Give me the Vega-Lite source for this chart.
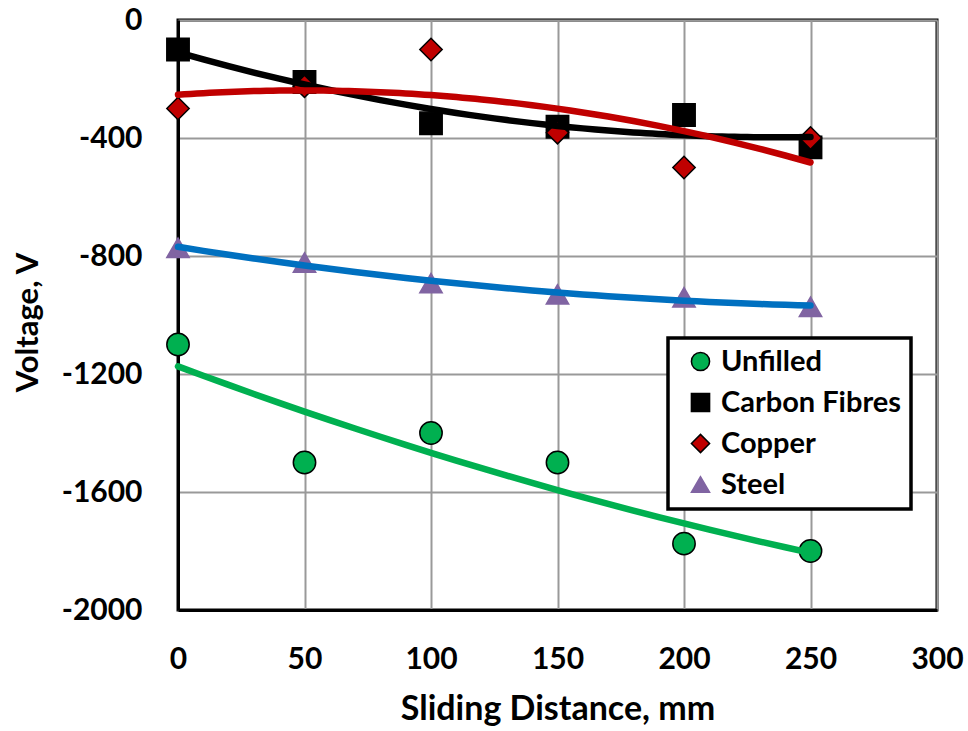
{
  "$schema": "https://vega.github.io/schema/vega-lite/v6.json",
  "width": 759,
  "height": 590,
  "autosize": "none",
  "padding": {"left": 178, "top": 20, "right": 31, "bottom": 121},
  "background": "white",
  "config": {
    "font": "Lato",
    "view": {"stroke": "black", "strokeWidth": 3},
    "axis": {
      "labelFont": "Lato", "labelFontWeight": "bold", "labelFontSize": 30, "labelColor": "black", "labelFlush": false,
      "titleFont": "Lato", "titleFontWeight": "bold", "titleFontSize": 32, "titleColor": "black",
      "gridColor": "#999999", "gridWidth": 2, "gridOpacity": 1,
      "domainColor": "black", "domainWidth": 3, "ticks": false
    },
    "legend": {
      "orient": "none", "legendX": 490, "legendY": 318,
      "strokeColor": "black", "strokeWidth": 3.5, "fillColor": "white",
      "padding": 9, "labelFont": "Lato", "labelFontWeight": "bold", "labelFontSize": 29, "labelColor": "black", "labelLimit": 400,
      "symbolSize": 330, "symbolStrokeWidth": 1.5, "rowPadding": 11, "labelOffset": 6, "symbolOffset": 9, "title": null
    }
  },
  "data": {"values": [
    {"series": "Unfilled", "d": 0, "v": -1100},
    {"series": "Unfilled", "d": 50, "v": -1500},
    {"series": "Unfilled", "d": 100, "v": -1400},
    {"series": "Unfilled", "d": 150, "v": -1500},
    {"series": "Unfilled", "d": 200, "v": -1775},
    {"series": "Unfilled", "d": 250, "v": -1800},
    {"series": "Carbon Fibres", "d": 0, "v": -100},
    {"series": "Carbon Fibres", "d": 50, "v": -210},
    {"series": "Carbon Fibres", "d": 100, "v": -350},
    {"series": "Carbon Fibres", "d": 150, "v": -362},
    {"series": "Carbon Fibres", "d": 200, "v": -322},
    {"series": "Carbon Fibres", "d": 250, "v": -432},
    {"series": "Copper", "d": 0, "v": -300},
    {"series": "Copper", "d": 50, "v": -225},
    {"series": "Copper", "d": 100, "v": -100},
    {"series": "Copper", "d": 150, "v": -382},
    {"series": "Copper", "d": 200, "v": -500},
    {"series": "Copper", "d": 250, "v": -400},
    {"series": "Steel", "d": 0, "v": -772},
    {"series": "Steel", "d": 50, "v": -822},
    {"series": "Steel", "d": 100, "v": -892},
    {"series": "Steel", "d": 150, "v": -930},
    {"series": "Steel", "d": 200, "v": -940},
    {"series": "Steel", "d": 250, "v": -972}
  ]},
  "encoding": {
    "x": {"field": "d", "type": "quantitative", "scale": {"domain": [0, 300], "nice": false, "zero": false},
      "axis": {"values": [0, 50, 100, 150, 200, 250, 300], "labelPadding": 34, "title": "Sliding Distance, mm", "titleFontSize": 34, "titlePadding": 18}},
    "y": {"field": "v", "type": "quantitative", "scale": {"domain": [-2000, 0], "nice": false},
      "axis": {"values": [-2000, -1600, -1200, -800, -400, 0], "labelExpr": "'' + datum.value", "labelPadding": 36,
        "title": "Voltage, V", "titleFontSize": 31, "titleX": -150, "titleY": 302, "titleAngle": 270, "titleBaseline": "middle", "titleAlign": "center"}}
  },
  "layer": [
    {
      "mark": {"type": "point", "filled": true, "size": 500, "strokeWidth": 1.5, "opacity": 1},
      "encoding": {
        "color": {"field": "series", "type": "nominal",
          "scale": {"domain": ["Unfilled", "Carbon Fibres", "Copper", "Steel"], "range": ["#00B050", "#000000", "#C00000", "#8064A2"]}},
        "shape": {"field": "series", "type": "nominal",
          "scale": {"domain": ["Unfilled", "Carbon Fibres", "Copper", "Steel"], "range": ["circle", "square", "diamond", "triangle-up"]}},
        "stroke": {"field": "series", "type": "nominal",
          "scale": {"domain": ["Unfilled", "Carbon Fibres", "Copper", "Steel"], "range": ["#000000", "#000000", "#000000", "#8064A2"]}}
      }
    },
    {
      "transform": [{"filter": "datum.series === 'Steel'"}, {"regression": "v", "on": "d", "method": "poly", "order": 2}],
      "mark": {"type": "line", "color": "#0070C0", "strokeWidth": 6.5, "strokeCap": "round"},
      "encoding": {}
    },
    {
      "transform": [{"filter": "datum.series === 'Unfilled'"}, {"regression": "v", "on": "d", "method": "poly", "order": 2}],
      "mark": {"type": "line", "color": "#00B050", "strokeWidth": 6.5, "strokeCap": "round"},
      "encoding": {}
    },
    {
      "transform": [{"filter": "datum.series === 'Carbon Fibres'"}, {"regression": "v", "on": "d", "method": "poly", "order": 2}],
      "mark": {"type": "line", "color": "#000000", "strokeWidth": 6.5, "strokeCap": "round"},
      "encoding": {}
    },
    {
      "transform": [{"filter": "datum.series === 'Copper'"}, {"regression": "v", "on": "d", "method": "poly", "order": 2}],
      "mark": {"type": "line", "color": "#C00000", "strokeWidth": 6.5, "strokeCap": "round"},
      "encoding": {}
    }
  ]
}
